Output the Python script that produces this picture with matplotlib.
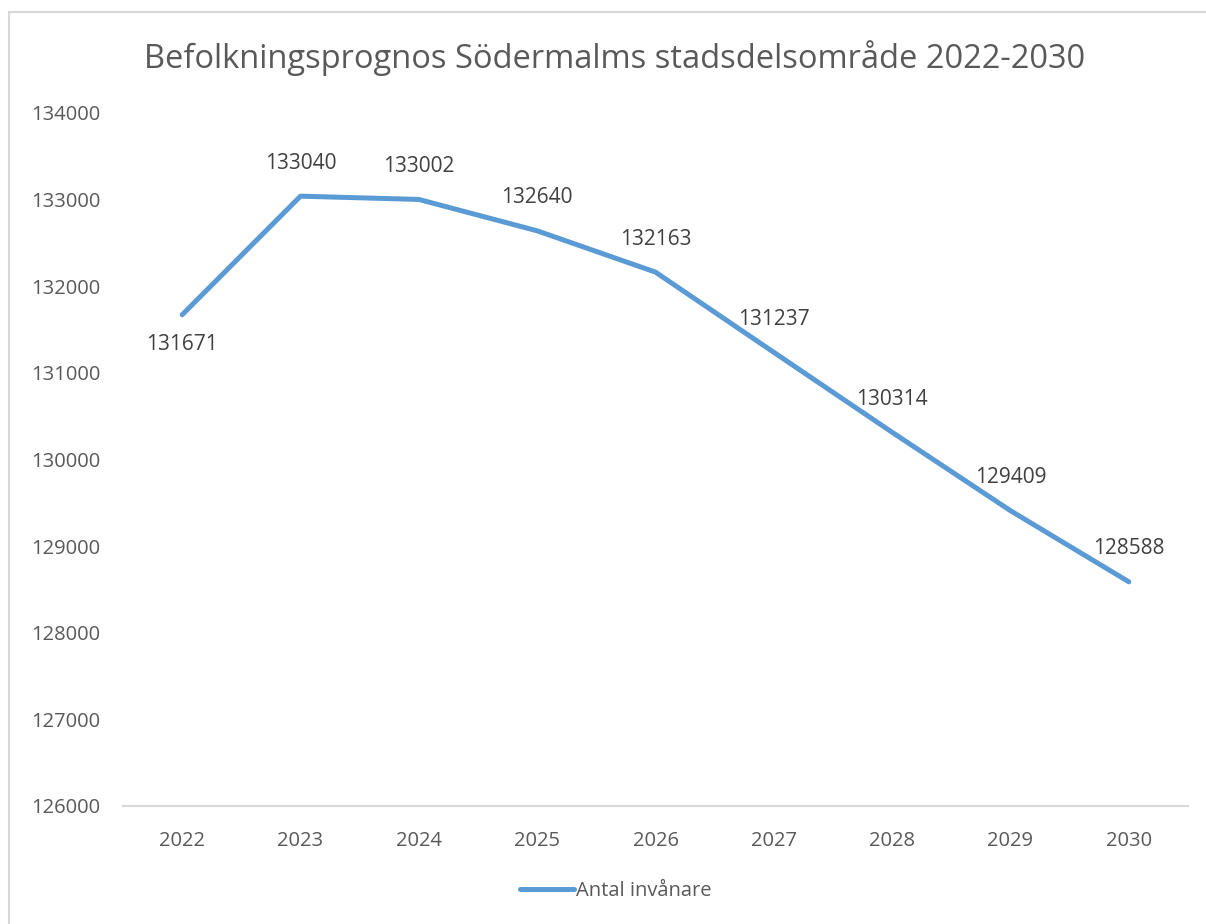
import matplotlib.pyplot as plt
from matplotlib.patches import Rectangle

years = ["2022", "2023", "2024", "2025", "2026", "2027", "2028", "2029", "2030"]
inhabitants = [131671, 133040, 133002, 132640, 132163, 131237, 130314, 129409, 128588]
yticks = [126000, 127000, 128000, 129000, 130000, 131000, 132000, 133000, 134000]

plt.rcParams['font.family'] = ['Open Sans', 'DejaVu Sans']
W, H = 1206, 924
fig = plt.figure(figsize=(W / 100, H / 100), dpi=100)

# chart border (cut off on right/bottom like the screenshot)
fig.patches.append(Rectangle((8.5 / W, -0.05), 1.1, 1 - 11.5 / H + 0.05,
                             transform=fig.transFigure, fill=False,
                             edgecolor="#d9d9d9", linewidth=1.5))

ax = fig.add_axes([123 / W, 1 - 806 / H, (1188 - 123) / W, (806 - 113) / H])
x = list(range(len(years)))
line, = ax.plot(x, inhabitants, color="#5b9bd5", linewidth=3.6,
                solid_capstyle="round", label="Antal invånare")

for i, v in enumerate(inhabitants):
    dy = -30 if i == 0 else 33
    ax.annotate(str(v), (i, v), xytext=(0, dy), textcoords="offset pixels",
                ha="center", va="center", fontsize=15, color="#404040")

ax.set_xlim(-0.5, len(years) - 0.5)
ax.set_ylim(126000, 134000)
ax.set_xticks(x)
ax.set_xticklabels(years)
ax.set_yticks(yticks)
ax.set_yticklabels([str(t) for t in yticks])
ax.tick_params(length=0, labelsize=14.5, labelcolor="#595959")
ax.tick_params(axis="x", pad=18)
ax.tick_params(axis="y", pad=16.5)
for s in ["top", "right", "left"]:
    ax.spines[s].set_visible(False)
ax.spines["bottom"].set_color("#d9d9d9")
ax.spines["bottom"].set_linewidth(1.5)

fig.text(615 / W, 1 - 58 / H, "Befolkningsprognos Södermalms stadsdelsområde 2022-2030",
         ha="center", va="center", fontsize=23.5, color="#595959")

fig.legend(handles=[line], loc="center", bbox_to_anchor=(616 / W, 1 - 891 / H),
           frameon=False, fontsize=14.5, labelcolor="#595959",
           handlelength=2.7, handletextpad=0.1)

fig.savefig("out.png", dpi=100)
